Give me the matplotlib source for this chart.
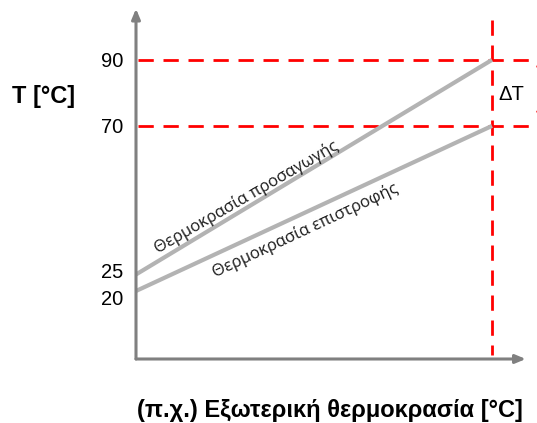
import matplotlib
matplotlib.use("Agg")
import matplotlib.pyplot as plt
from matplotlib.transforms import ScaledTranslation

# Data
x_points = [0.0, 1.0]
supply_temp = [25, 90]
return_temp = [20, 70]
tick_values = [20, 25, 70, 90]
tick_labels = ["20", "25", "70", "90"]
supply_label = "Θερμοκρασία προσαγωγής"
return_label = "Θερμοκρασία επιστροφής"
y_label = "T [°C]"
x_label = "(π.χ.) Εξωτερική θερμοκρασία [°C]"
delta_label = "ΔT"

W, H = 537, 423
fig = plt.figure(figsize=(W / 100, H / 100), dpi=100)
left_px, right_px, top_px, bot_px = 136, 537, 12, 359
ax = fig.add_axes([left_px / W, (H - bot_px) / H, (right_px - left_px) / W, (bot_px - top_px) / H])
ax.set_xlim(0, (right_px - left_px) / 356)
ax.set_ylim(-0.6, 104.5)
for s in ax.spines.values():
    s.set_visible(False)
ax.set_xticks([])
ax.set_yticks([])

# tick labels (nudged apart vertically like the reference)
nudges_px = {20: -9, 25: 2, 70: -2, 90: -2}
for v, lab in zip(tick_values, tick_labels):
    tr = ax.get_yaxis_transform() + ScaledTranslation(-13 / 100, nudges_px[v] / 100, fig.dpi_scale_trans)
    ax.text(0, v, lab, transform=tr, fontsize=14.5, family="Liberation Sans", ha="right", va="center")

axis_col = "#808080"
# axes with arrows
ax.annotate("", xy=(0, 105.5), xytext=(0, -0.6), xycoords="data",
            arrowprops=dict(arrowstyle="-|>,head_length=0.6,head_width=0.25", color=axis_col, lw=2.2,
                            shrinkA=0, shrinkB=0), annotation_clip=False)
ax.annotate("", xy=(1.095, -0.6), xytext=(0, -0.6), xycoords="data",
            arrowprops=dict(arrowstyle="-|>,head_length=0.6,head_width=0.25", color=axis_col, lw=2.2,
                            shrinkA=0, shrinkB=0), annotation_clip=False)

# dashed red lines
dash = (0, (5.5, 3.5))
ax.plot([0.005, 1.13], [90, 90], color="#ff0000", lw=2, linestyle=dash, clip_on=False)
ax.plot([0.005, 1.13], [70, 70], color="#ff0000", lw=2, linestyle=dash, clip_on=False)
ax.plot([1.0, 1.0], [102, 0.6], color="#ff0000", lw=2, linestyle=dash, clip_on=False)

# partially visible delta-T arrow at the right edge
ax.annotate("", xy=(1.134, 90.3), xytext=(1.134, 72), xycoords="data",
            arrowprops=dict(arrowstyle="<|-|>,head_length=0.45,head_width=0.2", color="#ff0000", lw=1.0,
                            shrinkA=0, shrinkB=0), annotation_clip=False)

# temperature lines
ax.plot(x_points, supply_temp, color="#b3b3b3", lw=3, solid_capstyle="butt")
ax.plot(x_points, return_temp, color="#b3b3b3", lw=3, solid_capstyle="butt")

# line labels
ax.text(0.31, 48.5, supply_label, rotation=30, fontsize=12, family="Open Sans",
        ha="center", va="center", rotation_mode="anchor", color="#1a1a1a")
ax.text(0.475, 38.3, return_label, rotation=25, fontsize=12, family="Open Sans",
        ha="center", va="center", rotation_mode="anchor", color="#1a1a1a")

# delta T
ax.text(1.053, 79.4, delta_label, fontsize=14.5, family="Liberation Sans", ha="center", va="center")

# axis labels
fig.text(44 / W, 1 - 97 / H, y_label, fontsize=17, fontweight="bold", family="Liberation Sans",
         ha="center", va="center")
fig.text(330 / W, 1 - 410 / H, x_label, fontsize=17, fontweight="bold", family="Liberation Sans",
         ha="center", va="center")

fig.savefig("out.png", dpi=100)
